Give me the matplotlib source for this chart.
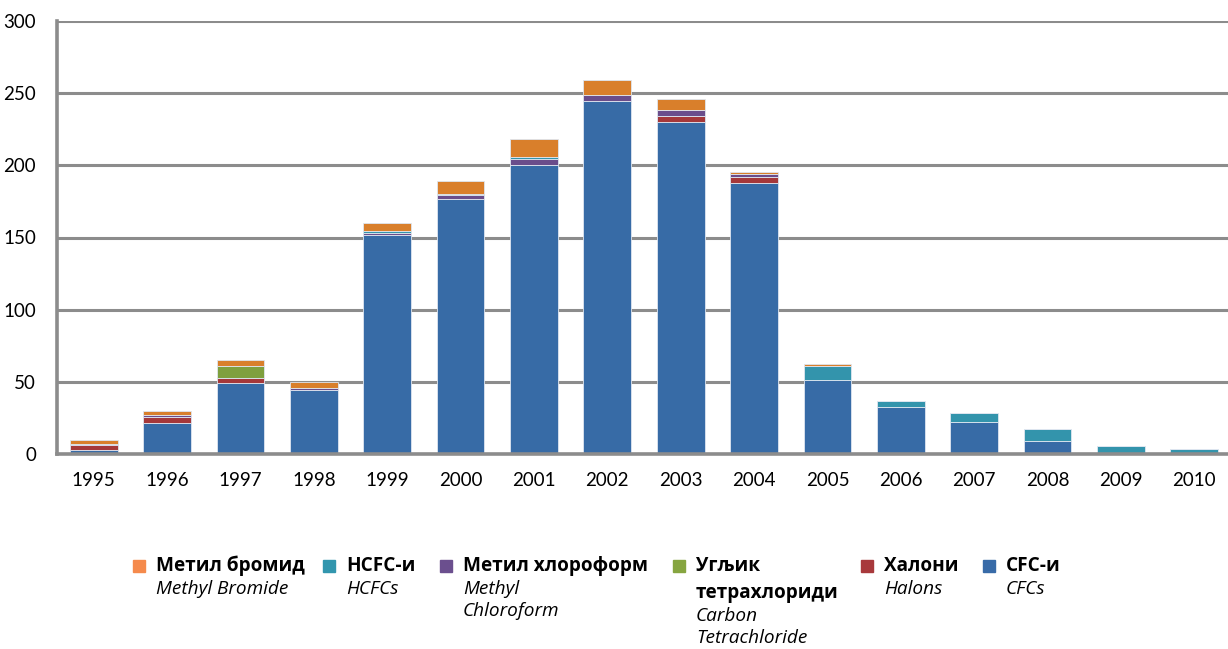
import matplotlib
matplotlib.use("Agg")
import matplotlib.pyplot as plt
from matplotlib.patches import Rectangle
import numpy as np

years = ["1995", "1996", "1997", "1998", "1999", "2000", "2001", "2002",
         "2003", "2004", "2005", "2006", "2007", "2008", "2009", "2010"]

# ODP tonnes per substance group, stacked from the bottom up
cfcs = [3, 21.3, 49, 44.4, 151.4, 177, 200.5, 244.7, 230, 188, 51.2, 32.4, 22, 8.8, 0, 0]
halons = [3.5, 4, 4, 0, 0, 0, 0, 0, 4.1, 4.1, 0, 0, 0, 0, 0, 0]
carbon_tet = [0, 0, 8.3, 0, 0, 0, 0, 0, 0, 0, 0, 0, 0, 0, 0, 0]
methyl_chloroform = [0.5, 1.4, 0, 1.4, 1.8, 2.3, 4.1, 4.1, 4.1, 1.6, 0, 0, 0, 0, 0, 0]
hcfcs = [0, 0, 0, 0, 1, 0.7, 1.2, 0, 0, 0, 10, 4.4, 6.7, 8.3, 5.8, 3.7]
methyl_bromide = [2.5, 2.8, 4, 4.4, 6, 9, 12.2, 10.2, 8.1, 1.4, 1, 0, 0, 0, 0, 0]

series = [cfcs, halons, carbon_tet, methyl_chloroform, hcfcs, methyl_bromide]
bar_colors = ["#376ba6", "#a5383a", "#7fa03e", "#6a4d8b", "#3394ac", "#d97f2b"]

# legend entries: (swatch colour, bold label, italic lines, x of swatch in px)
legend_items = [
    ("#f58a4c", ["Метил бромид"], ["Methyl Bromide"], 133),
    ("#3296ae", ["HCFC-и"], ["HCFCs"], 323),
    ("#6b4f8e", ["Метил хлороформ"], ["Methyl", "Chloroform"], 440),
    ("#86a540", ["Угљик", "тетрахлориди"], ["Carbon", "Tetrachloride"], 673),
    ("#a8393c", ["Халони"], ["Halons"], 861),
    ("#386ba8", ["CFC-и"], ["CFCs"], 983),
]

W, H = 1228, 649
fig = plt.figure(figsize=(W / 100, H / 100), dpi=100)
ax = fig.add_axes([57 / W, 1 - 454 / H, (1231 - 57) / W, (454 - 21) / H])

x = np.arange(len(years))
bottom = np.zeros(len(years))
for vals, col in zip(series, bar_colors):
    vals = np.array(vals, dtype=float)
    ax.bar(x, vals, 0.65, bottom=bottom, color=col,
           edgecolor="#dfe6f0", linewidth=0.6, zorder=3)
    bottom += vals

ax.set_xlim(-0.5, 15.5)
ax.set_ylim(0, 300)
ax.set_yticks(range(0, 301, 50))
ax.set_xticks(x)
ax.set_xticklabels(years)
ax.grid(axis="y", color="#8c8c8c", linewidth=2.2, zorder=0)
ax.tick_params(length=0, labelsize=13.5, pad=13)
ax.tick_params(axis="y", pad=15)
for lab in ax.get_xticklabels() + ax.get_yticklabels():
    lab.set_family(["Lato", "DejaVu Sans"])
for side in ["top", "right"]:
    ax.spines[side].set_visible(False)
for side in ["left", "bottom"]:
    ax.spines[side].set_color("#8c8c8c")
    ax.spines[side].set_linewidth(2.6)
    ax.spines[side].set_zorder(4)


def fx(px):
    return px / W


def fy(py):
    return 1 - py / H


for col, bold, ital, sx in legend_items:
    fig.patches.append(Rectangle((fx(sx), fy(572)), 12 / W, 12 / H,
                                 transform=fig.transFigure, color=col))
    y = 566
    for line in bold:
        fig.text(fx(sx + 23), fy(y), line, fontsize=13.7, fontweight="bold",
                 family="Open Sans", va="center", ha="left")
        y += 27
    y -= 4
    for line in ital:
        fig.text(fx(sx + 23), fy(y), line, fontsize=13.7, style="italic",
                 family="Open Sans", va="center", ha="left")
        y += 22

fig.savefig("out.png", dpi=100)
